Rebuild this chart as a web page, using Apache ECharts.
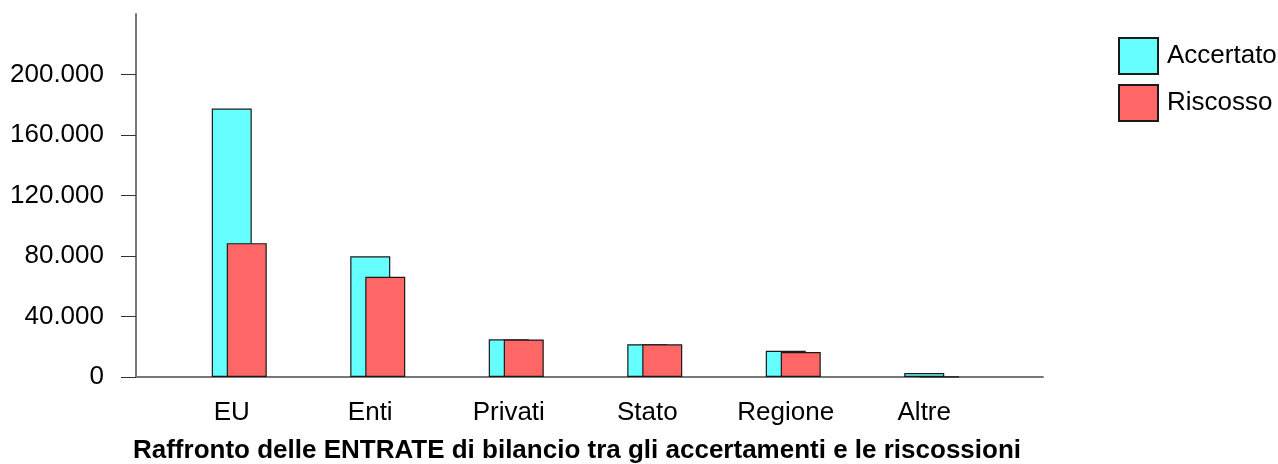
<!DOCTYPE html>
<html>
<head>
<meta charset="utf-8">
<script src="https://cdn.jsdelivr.net/npm/echarts@6/dist/echarts.min.js"></script>
<style>
html,body{margin:0;padding:0;background:#fff;}
#chart{width:1278px;height:464px;}
</style>
</head>
<body>
<div id="chart"></div>
<script>
const categories = ['EU', 'Enti', 'Privati', 'Stato', 'Regione', 'Altre'];
const accertato = [177500, 79800, 24900, 21700, 17300, 2600];
const riscosso = [88500, 66300, 24800, 21600, 16500, 250];
const yTicks = [0, 40000, 80000, 120000, 160000, 200000];
const titleText = 'Raffronto delle ENTRATE di bilancio tra gli accertamenti e le riscossioni';

function fmt(v) { return String(v).replace(/\B(?=(\d{3})+(?!\d))/g, '.'); }

const FONT = '"Liberation Sans", Arial, sans-serif';
const chart = echarts.init(document.getElementById('chart'), null, {renderer: 'canvas'});
const gTop = 14, gBottom = 87;
chart.setOption({
  animation: false,
  backgroundColor: '#fff',
  title: {
    text: titleText,
    left: 572, top: 433, textAlign: 'center',
    textStyle: {fontFamily: FONT, fontWeight: 'bold', fontSize: 26, color: '#000'}
  },
  legend: {
    orient: 'vertical', left: 1113, top: 32,
    itemWidth: 39, itemHeight: 36, itemGap: 9,
    icon: 'rect',
    textStyle: {fontFamily: FONT, fontSize: 26, color: '#000', padding: [0, 0, 0, 4]},
    data: ['Accertato', 'Riscosso']
  },
  grid: [
    {left: 136, right: 235, top: gTop, bottom: gBottom},
    {left: 170, width: 831, top: gTop, bottom: gBottom}
  ],
  xAxis: [
    {gridIndex: 0, type: 'value', min: 0, max: 1,
     axisLine: {show: true, onZero: false, lineStyle: {color: '#777', width: 2}},
     axisTick: {show: false}, axisLabel: {show: false}, splitLine: {show: false}},
    {gridIndex: 1, type: 'category', data: categories,
     axisLine: {show: false}, axisTick: {show: false}, splitLine: {show: false},
     axisLabel: {fontFamily: FONT, fontSize: 26, color: '#000', margin: 23, padding: [0, 15, 0, 0]}}
  ],
  yAxis: [
    {gridIndex: 0, type: 'value', min: 0, max: 240000, interval: 40000,
     axisLine: {show: true, lineStyle: {color: '#777', width: 2}},
     axisTick: {show: true, length: 15, lineStyle: {color: '#333', width: 1}, customValues: yTicks},
     axisLabel: {fontFamily: FONT, fontSize: 26, color: '#000', margin: 32, customValues: yTicks, formatter: fmt},
     splitLine: {show: false}},
    {gridIndex: 1, type: 'value', min: 0, max: 240000, interval: 40000, show: false, splitLine: {show: false}}
  ],
  series: [
    {name: 'Accertato', type: 'bar', xAxisIndex: 1, yAxisIndex: 1, data: accertato,
     barWidth: 40, barGap: '-62.5%',
     itemStyle: {color: '#66FFFF', borderColor: '#1a1a1a', borderWidth: 1.2}},
    {name: 'Riscosso', type: 'bar', xAxisIndex: 1, yAxisIndex: 1, data: riscosso,
     barWidth: 40, barGap: '-62.5%',
     itemStyle: {color: '#FF6666', borderColor: '#1a1a1a', borderWidth: 1.2}}
  ]
});
</script>
</body>
</html>
